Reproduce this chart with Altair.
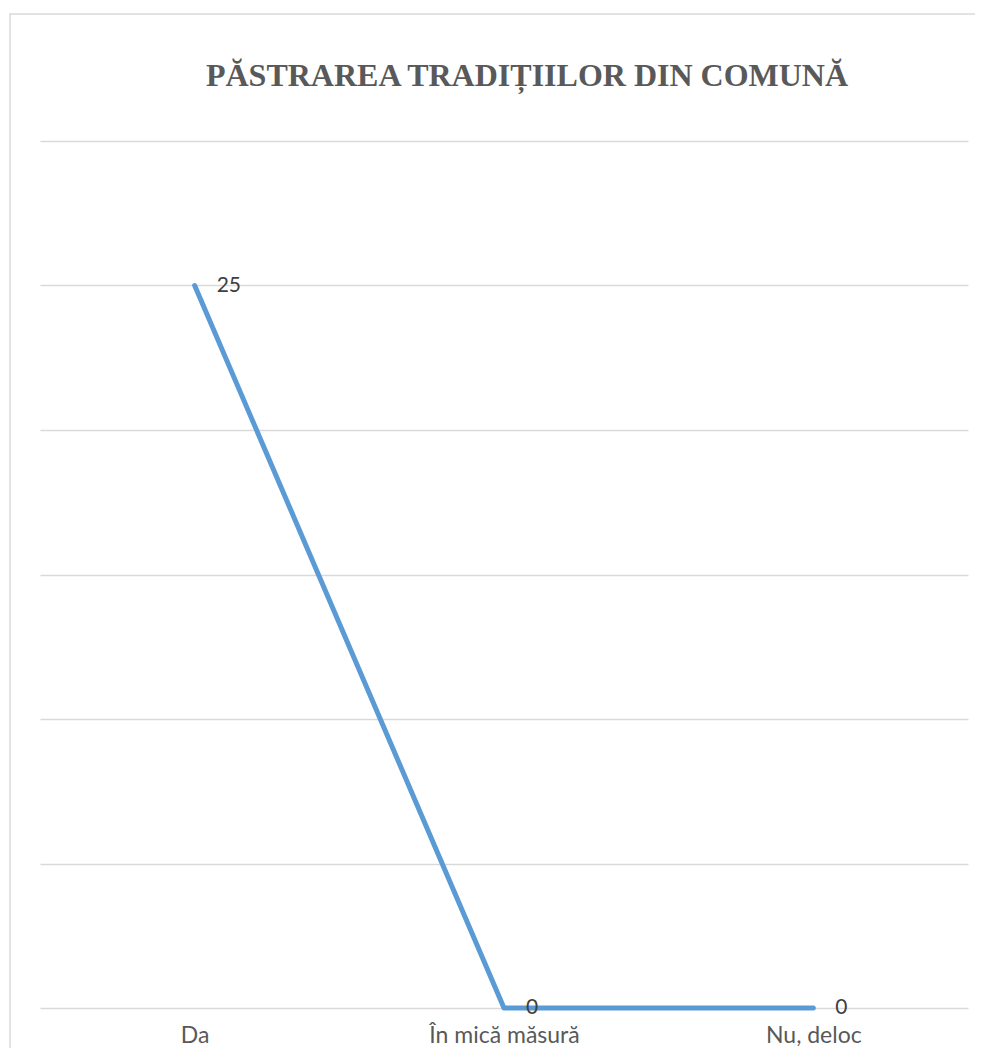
import altair as alt
import pandas as pd

categories = ["Da", "În mică măsură", "Nu, deloc"]
values = [25, 0, 0]
labels = ["25", "0", "0"]

df = pd.DataFrame({"cat": categories, "val": values, "lab": labels})

FONT = "Lato"

x_enc = alt.X("cat:N", sort=categories, title=None,
              scale=alt.Scale(paddingOuter=0.5, paddingInner=0),
              axis=alt.Axis(domain=False, ticks=False, labelAngle=0,
                            labelFont=FONT, labelFontSize=23, labelColor="#595959",
                            labelPadding=16, grid=False))
y_enc = alt.Y("val:Q", title=None,
              scale=alt.Scale(domain=[0, 30], nice=False),
              axis=alt.Axis(values=[0, 5, 10, 15, 20, 25, 30], labels=False, ticks=False,
                            domain=False, grid=True, gridColor="#D9D9D9", gridWidth=1.3))

border = alt.Chart(pd.DataFrame({"k": [0]})).mark_rect(
    fill=None, stroke="#D9D9D9", strokeWidth=1.5, clip=False
).encode(x=alt.value(-30), x2=alt.value(960), y=alt.value(-127), y2=alt.value(940))

line = alt.Chart(df).mark_line(color="#5B9BD5", strokeWidth=5, strokeCap="round",
                               strokeJoin="round").encode(x=x_enc, y=y_enc)

text = alt.Chart(df).mark_text(align="left", baseline="middle", dx=22, dy=0,
                               font=FONT, fontSize=21, color="#404040").encode(
    x=alt.X("cat:N", sort=categories), y="val:Q", text="lab:N")

chart = alt.layer(border, line, text).properties(
    width=928, height=867,
    title=alt.TitleParams("PĂSTRAREA TRADIȚIILOR DIN COMUNĂ", font="Liberation Serif",
                          fontSize=32, fontWeight="bold", color="#595959",
                          anchor="middle", frame="group", baseline="alphabetic",
                          offset=-105, dx=23),
    autosize=alt.AutoSizeParams(type="none"),
    padding={"left": 32, "top": 133, "right": 7, "bottom": 40},
).configure(background="white").configure_view(strokeWidth=0, stroke="transparent")

chart.save("out.html", embed_options={"renderer": "svg", "actions": False})
